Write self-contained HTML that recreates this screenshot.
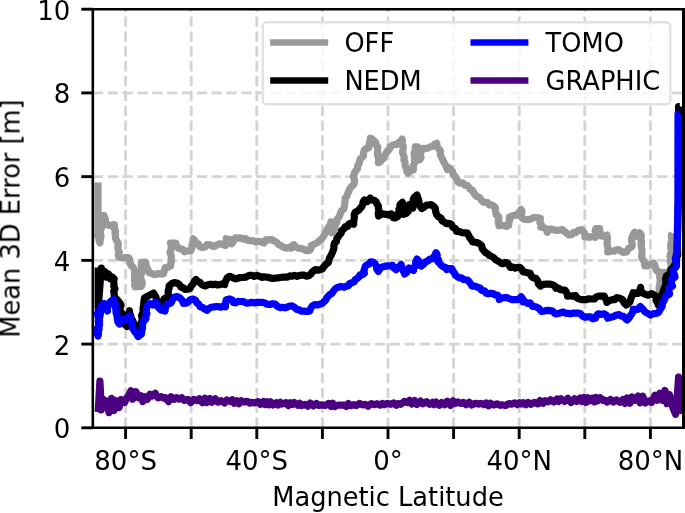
<!DOCTYPE html>
<html><head><meta charset="utf-8"><title>Mean 3D Error vs Magnetic Latitude</title>
<style>
html,body{margin:0;padding:0;background:#fff;}
body{width:685px;height:513px;overflow:hidden;}
svg{display:block;}
text{font-family:"DejaVu Sans","Liberation Sans",sans-serif;font-size:26px;fill:#000;}
</style></head><body>
<svg width="685" height="513" viewBox="0 0 685 513">
<rect x="0" y="0" width="685" height="513" fill="#fff"/>
<filter id="soft" x="-2%" y="-2%" width="104%" height="104%"><feGaussianBlur stdDeviation="0.5"/></filter>
<g filter="url(#soft)">

<g stroke="#d4d4d4" stroke-width="2.8" stroke-dasharray="10.3,4.55" fill="none">
<line x1="125.60" y1="427.8" x2="125.60" y2="9.2"/>
<line x1="191.20" y1="427.8" x2="191.20" y2="9.2"/>
<line x1="256.80" y1="427.8" x2="256.80" y2="9.2"/>
<line x1="322.40" y1="427.8" x2="322.40" y2="9.2"/>
<line x1="388.00" y1="427.8" x2="388.00" y2="9.2"/>
<line x1="453.60" y1="427.8" x2="453.60" y2="9.2"/>
<line x1="519.20" y1="427.8" x2="519.20" y2="9.2"/>
<line x1="584.80" y1="427.8" x2="584.80" y2="9.2"/>
<line x1="650.40" y1="427.8" x2="650.40" y2="9.2"/>
<line x1="92.8" y1="344.08" x2="683.2" y2="344.08"/>
<line x1="92.8" y1="260.36" x2="683.2" y2="260.36"/>
<line x1="92.8" y1="176.64" x2="683.2" y2="176.64"/>
<line x1="92.8" y1="92.92" x2="683.2" y2="92.92"/>
</g>
<clipPath id="cp"><rect x="92.8" y="9.2" width="590.4000000000001" height="418.6"/></clipPath>
<g clip-path="url(#cp)" fill="none" stroke-width="7.2" stroke-linejoin="round" stroke-linecap="butt">
<polyline stroke="#999999" points="98.0,182.4 98.0,232.0 97.6,236.0 98.8,238.2 99.1,240.7 100.0,243.0 100.0,240.5 100.7,238.0 101.0,235.5 100.2,232.9 100.4,230.4 101.5,228.0 102.6,225.6 102.1,222.9 102.5,220.4 104.4,218.2 104.0,215.5 104.8,217.7 105.5,220.0 105.7,222.4 107.0,224.5 110.0,225.5 114.3,224.6 114.6,226.9 114.5,229.2 115.6,231.4 115.0,233.7 115.5,236.0 115.6,238.8 117.0,241.3 118.2,243.0 118.2,245.3 117.9,247.7 118.1,250.0 119.3,252.3 118.2,254.7 118.7,257.0 120.8,257.7 123.0,258.0 125.7,257.4 128.4,257.5 130.0,260.0 130.0,263.0 131.0,265.4 133.0,267.0 134.0,269.0 135.0,271.0 134.6,273.3 134.4,275.6 134.7,277.9 134.4,280.2 135.3,282.4 134.6,284.7 135.2,287.0 138.3,286.6 141.4,286.3 142.2,283.9 142.1,281.5 140.7,279.1 140.8,276.7 141.0,274.3 142.4,272.0 141.4,269.6 141.8,267.2 141.2,264.8 141.6,262.4 145.5,262.2 146.2,265.1 147.0,268.0 148.4,270.4 149.4,273.0 152.1,273.5 154.7,274.6 158.2,273.6 160.8,273.9 163.4,273.8 164.4,270.7 165.2,267.6 167.7,267.4 169.6,265.9 170.5,266.0 170.8,263.7 171.3,261.4 171.1,259.1 171.4,256.8 170.8,254.5 169.9,252.2 171.1,249.9 171.3,247.6 171.2,245.3 170.5,243.0 173.1,243.1 175.7,243.0 176.7,245.8 178.4,248.3 182.7,249.2 184.5,251.8 187.5,250.9 190.6,251.0 191.9,248.1 192.0,245.0 192.8,241.9 193.3,238.7 194.9,240.6 195.9,243.0 198.4,243.9 199.6,246.5 202.0,247.5 204.9,246.9 207.0,244.7 210.3,244.9 213.2,246.5 215.4,246.1 217.2,244.6 219.3,243.9 222.5,244.1 225.4,245.6 225.3,243.2 226.5,241.0 226.3,238.6 228.4,239.7 230.7,239.5 232.0,241.5 231.6,243.9 233.2,242.0 233.9,239.3 236.0,237.7 238.4,238.3 240.8,237.8 243.1,239.1 245.6,238.6 247.9,240.5 250.9,240.7 253.2,240.9 255.5,241.9 257.9,241.2 261.0,241.8 264.0,243.0 264.7,240.8 266.7,239.5 269.0,240.1 271.5,239.5 273.7,240.7 276.6,242.3 278.9,244.7 281.3,245.7 283.5,247.2 286.0,248.2 288.6,247.6 291.2,248.2 291.9,245.9 293.9,244.7 295.6,247.0 298.2,248.2 301.2,248.5 304.0,249.4 306.8,250.6 309.9,250.2 311.1,248.2 311.0,245.9 313.9,244.3 316.9,243.0 318.6,241.4 320.5,239.9 322.2,238.3 323.7,236.1 325.0,233.7 326.2,231.3 327.4,228.9 328.8,226.6 330.4,224.5 330.9,221.8 331.1,224.0 331.5,226.3 331.2,228.6 332.3,230.7 332.1,233.0 332.7,230.6 334.8,228.9 335.0,226.4 335.9,224.2 336.8,221.9 336.9,219.5 338.4,217.7 339.6,215.8 340.3,213.7 341.4,210.8 343.8,209.0 344.4,206.3 344.8,203.6 345.0,200.8 345.2,198.2 347.0,196.2 347.6,193.7 348.9,191.5 349.5,189.0 351.5,186.6 353.9,184.6 354.4,182.2 354.6,179.7 353.5,177.2 353.8,174.8 354.7,172.4 356.1,170.3 357.6,168.4 357.6,165.6 359.1,163.6 359.5,161.4 360.0,159.2 361.9,157.6 363.5,155.7 363.6,152.6 364.4,149.6 366.5,148.5 368.8,147.8 368.9,145.3 369.4,143.0 370.2,140.6 370.5,138.2 372.5,139.4 374.2,140.9 375.8,142.5 375.9,145.0 377.8,147.0 377.5,149.6 377.6,152.2 377.4,154.9 378.4,157.4 378.7,160.0 378.4,162.7 380.5,161.7 381.6,159.4 383.7,158.3 384.4,155.7 385.9,153.6 387.2,151.3 389.2,149.5 390.2,146.8 392.5,145.2 395.0,144.4 397.7,144.3 398.9,142.3 401.1,141.2 402.1,139.0 402.4,141.3 401.9,143.7 403.3,145.9 403.2,148.3 402.8,150.7 402.6,153.1 403.6,155.3 404.2,157.6 403.9,160.0 405.1,162.2 405.0,164.7 405.6,167.0 407.0,168.9 406.8,171.3 408.2,173.2 410.1,171.4 410.9,168.9 413.5,169.7 413.1,167.4 413.5,165.1 414.6,162.9 414.5,160.6 414.9,158.3 414.3,156.0 414.1,153.7 414.6,151.4 415.6,149.2 415.3,146.9 417.9,146.9 418.6,149.0 418.7,151.2 418.9,153.4 419.2,155.6 419.5,157.8 419.6,160.0 421.0,157.6 420.4,154.6 420.8,152.0 422.3,149.6 423.5,148.4 426.0,148.6 428.3,147.9 430.5,146.7 433.0,146.3 434.6,144.3 436.7,143.2 436.8,145.6 437.7,147.6 439.3,149.3 440.5,151.2 440.3,153.6 440.8,155.8 441.8,157.8 442.8,159.8 443.9,162.2 445.3,164.5 446.4,167.0 447.2,169.5 448.9,167.7 450.9,169.6 452.6,171.7 453.4,174.4 455.1,176.5 456.7,179.0 457.7,181.8 459.9,183.2 462.8,182.8 464.7,185.1 467.4,185.3 468.9,187.3 470.3,189.3 472.6,190.5 474.4,194.0 476.6,196.3 479.6,197.5 481.4,200.2 483.1,201.9 485.3,202.4 487.8,202.6 489.2,204.8 491.7,204.9 493.6,206.1 495.4,207.5 495.4,210.0 495.9,212.5 496.2,215.0 498.7,216.6 498.9,218.9 498.1,221.2 498.7,223.5 499.0,225.8 501.4,225.5 503.8,225.3 506.3,226.3 508.7,225.6 508.9,222.7 509.6,219.9 509.3,217.0 511.7,216.1 514.0,215.3 516.6,215.2 518.1,213.3 520.0,211.7 521.0,209.4 522.0,211.6 521.3,214.2 521.5,216.6 522.7,218.8 525.3,219.5 527.9,219.6 530.6,219.2 533.5,217.5 536.8,217.5 540.3,218.3 540.2,220.5 539.9,222.7 541.5,224.9 540.8,227.1 543.7,227.6 546.4,228.9 547.3,232.4 548.8,230.4 550.8,228.9 553.8,229.8 556.9,230.6 559.5,230.0 562.2,229.7 564.0,231.0 565.7,232.4 569.2,235.0 571.7,234.6 573.6,232.4 576.2,232.4 578.5,230.3 581.5,229.7 584.1,232.4 585.2,234.6 585.0,237.0 587.2,236.5 589.4,237.3 592.3,236.5 595.2,237.3 596.3,235.2 596.2,233.0 595.1,230.6 596.0,228.5 599.6,228.5 599.9,230.9 600.5,233.3 600.4,235.8 604.0,236.5 606.9,235.1 607.3,237.5 607.4,239.9 607.0,242.3 607.2,244.7 607.7,247.1 608.1,249.5 607.7,251.9 610.9,251.2 614.2,251.2 616.2,249.8 618.6,249.7 620.7,251.1 623.0,252.3 626.7,251.9 628.9,248.2 631.8,246.8 632.3,244.6 631.9,242.4 631.5,240.2 631.8,238.0 632.5,235.8 634.7,232.2 636.3,234.2 637.6,236.5 639.8,232.9 641.3,235.1 641.2,237.4 640.9,239.8 641.7,242.1 641.0,244.5 641.4,246.8 641.8,249.1 642.0,251.5 641.9,253.8 641.6,256.2 642.0,258.5 644.2,261.4 644.7,263.6 644.9,265.8 647.2,265.8 649.3,265.1 651.4,263.9 653.5,262.9 654.8,264.9 655.2,267.3 656.5,270.5 660.0,272.5 659.9,274.9 659.6,277.3 660.7,279.7 660.0,282.1 660.0,284.4 659.2,286.8 659.1,289.2 660.0,291.6 659.8,294.0 660.7,291.7 660.7,289.3 659.9,286.8 660.5,284.4 660.1,282.0 661.5,279.7 661.4,277.3 662.0,274.9 661.5,272.5 664.8,272.8 668.0,272.0 670.6,270.0 671.0,267.8 671.2,265.6 670.9,263.3 670.2,261.1 671.1,258.9 670.1,256.6 670.4,254.4 671.6,252.2 671.2,250.0 670.6,247.5 670.8,245.1 671.0,242.7 672.6,240.3 671.5,237.8 671.4,235.4 672.4,233.0"/>
<polyline stroke="#000000" points="98.2,267.6 98.2,308.0 101.3,268.0 100.9,270.7 102.4,273.3 102.0,276.0 104.0,274.1 105.0,271.5 105.2,274.3 106.0,277.0 108.5,274.0 108.7,276.4 110.0,278.5 112.0,277.0 114.2,279.0 113.4,281.4 114.1,283.9 113.7,286.3 115.0,288.7 113.7,291.1 114.2,293.6 114.2,296.0 115.6,298.2 117.5,300.0 120.0,303.0 121.0,305.2 120.1,307.5 120.0,309.8 121.0,312.0 122.5,314.3 122.8,316.9 123.1,319.5 124.0,322.0 125.0,324.6 127.0,326.5 126.8,323.9 127.0,321.4 127.5,318.9 128.4,316.5 128.5,314.0 129.5,310.6 129.6,313.2 130.7,315.5 131.0,318.0 132.2,319.9 133.2,321.9 134.0,324.0 135.2,325.9 136.1,327.9 137.0,330.0 139.5,333.0 139.2,330.4 140.3,328.0 141.6,325.6 141.0,323.0 142.0,320.6 142.0,318.0 141.6,315.4 142.8,313.0 143.2,310.5 143.0,308.0 143.7,305.5 143.8,303.0 144.1,300.5 144.5,298.0 148.0,296.0 151.0,294.5 153.5,293.0 154.5,295.1 156.0,297.0 156.3,299.9 158.6,302.1 159.0,305.0 162.0,306.0 162.0,303.5 163.8,301.5 164.0,299.0 167.5,297.0 168.5,294.9 168.1,292.6 168.3,290.4 169.1,288.3 169.0,286.0 172.0,283.5 174.4,282.7 177.0,283.0 179.3,284.7 181.0,287.0 183.3,287.8 185.0,289.5 187.5,289.2 190.0,288.5 191.2,286.1 193.0,284.0 194.1,281.5 196.0,279.5 197.8,281.3 200.0,282.5 202.2,284.9 205.3,286.0 207.8,284.8 210.5,284.2 212.8,284.6 215.2,284.2 217.5,285.0 219.9,284.6 222.3,284.1 224.6,284.6 225.0,282.0 226.3,279.8 227.4,277.4 229.8,276.3 232.5,277.6 235.1,278.9 237.7,278.3 240.3,277.5 242.9,277.4 245.6,277.2 249.1,275.4 251.8,275.3 254.3,276.3 257.0,275.4 259.6,276.3 261.8,277.4 264.1,276.8 266.4,277.2 268.6,277.3 270.8,278.2 273.1,278.4 275.4,278.1 277.8,277.9 280.1,277.5 282.5,277.2 285.0,277.2 287.5,277.1 289.8,275.9 292.3,276.2 294.7,275.4 297.0,276.3 299.4,275.5 301.8,275.1 304.1,275.2 306.4,276.1 308.8,275.8 310.8,274.1 312.3,271.9 315.3,269.6 317.7,270.2 320.0,269.7 322.3,268.8 324.0,266.4 326.0,264.3 328.4,262.6 328.9,260.1 329.6,257.7 331.0,255.6 332.1,253.1 333.1,250.6 333.9,248.1 333.9,245.3 334.5,243.1 336.5,241.5 336.7,239.0 338.0,237.1 339.3,235.0 341.2,233.2 341.7,230.5 343.8,228.9 345.1,226.9 347.7,226.4 348.8,224.2 350.8,223.0 353.7,224.2 353.6,221.8 354.1,219.4 354.4,216.9 354.2,214.5 355.2,212.3 357.3,211.2 359.1,209.8 360.5,208.0 362.0,206.3 362.8,204.2 363.1,201.9 364.4,199.9 367.3,201.6 368.9,199.9 370.2,198.1 371.7,200.0 374.2,200.3 376.1,201.6 376.8,203.8 378.3,205.7 378.4,208.1 378.9,210.7 378.2,213.4 378.6,216.0 380.2,214.3 382.5,213.9 386.6,214.5 389.0,214.9 391.3,213.9 393.0,217.6 395.5,217.8 397.7,216.6 397.4,214.1 399.4,211.9 398.9,209.4 400.0,207.1 400.0,204.6 402.4,202.4 402.2,204.8 403.2,207.1 402.7,209.6 403.0,211.9 403.5,214.3 406.1,213.4 408.2,211.6 408.2,209.2 409.5,207.0 409.4,204.6 410.6,206.9 412.9,208.0 413.5,205.4 413.6,202.8 413.1,200.0 414.1,197.5 417.0,195.0 417.8,197.8 418.8,200.5 419.3,203.4 420.1,206.1 421.7,208.5 424.2,207.1 426.4,205.1 428.7,205.0 431.0,204.6 433.5,206.1 435.3,208.5 435.7,211.7 436.7,214.8 438.5,216.7 440.9,217.9 442.0,220.6 444.2,222.0 446.3,223.6 449.1,223.4 451.6,224.5 452.7,227.3 455.6,228.8 456.8,231.5 459.5,231.6 462.0,232.7 464.7,232.9 467.4,233.2 468.6,235.5 469.8,237.7 471.4,239.8 472.6,242.0 475.0,242.3 477.4,242.6 479.6,243.8 481.7,245.7 482.2,248.7 484.0,250.8 485.6,252.6 487.8,253.8 489.4,255.5 491.8,256.5 493.8,257.8 495.4,259.6 498.2,261.1 500.7,263.0 503.0,263.7 505.4,262.3 507.7,263.2 509.1,265.4 510.5,267.6 512.9,267.1 515.2,268.1 517.6,267.3 520.0,267.6 521.9,269.6 523.3,272.0 525.7,272.3 528.0,272.9 530.3,273.3 531.0,275.6 532.6,277.5 536.1,278.5 537.8,280.9 538.4,283.8 540.4,286.0 543.2,284.4 546.4,284.2 549.5,284.1 552.5,284.8 554.8,286.0 556.0,288.3 558.3,288.0 560.3,289.6 562.5,290.0 564.8,290.0 566.2,291.8 567.1,293.9 567.5,296.2 570.1,295.8 572.8,296.1 575.4,295.4 576.7,297.6 578.9,298.9 581.2,299.6 583.5,299.6 585.9,299.7 588.7,298.8 591.7,299.0 594.6,298.9 596.1,297.1 598.2,296.2 601.2,296.2 604.3,296.2 605.1,298.3 606.5,300.1 606.9,302.4 609.3,300.6 612.2,299.7 614.7,299.6 616.7,297.7 619.2,298.0 622.7,299.7 624.0,302.7 626.2,305.0 628.2,303.7 629.8,302.0 630.6,299.7 631.3,297.3 632.4,295.1 633.2,292.7 635.8,293.1 638.5,293.3 639.8,290.4 640.6,287.3 640.8,290.4 642.7,293.0 645.4,294.4 648.3,295.2 651.8,293.6 655.3,295.6 656.4,297.8 656.1,300.5 657.5,302.6 658.2,305.0 659.2,302.8 660.2,300.6 659.8,297.9 661.9,296.0 662.3,293.6 663.4,291.4 664.0,288.9 665.0,286.6 665.8,284.2 665.9,281.5 665.6,278.7 666.4,276.0 669.3,274.0 670.5,272.0 670.9,269.6 672.8,268.0 674.0,266.0 675.4,264.1 676.3,262.0 676.4,259.6 676.8,257.2 677.7,254.9 677.7,252.5 677.2,250.0 678.4,200.0 678.6,106.5 679.8,106.5"/>
<polyline stroke="#0000ff" points="98.0,309.0 98.7,311.2 97.5,313.5 97.8,315.8 98.8,318.0 98.3,320.2 98.5,322.5 98.8,324.8 97.9,327.0 97.2,329.2 98.3,331.5 97.3,333.8 98.0,336.0 98.5,333.8 97.7,331.5 99.1,329.3 98.8,327.0 99.6,324.8 99.4,322.5 99.6,320.3 99.1,318.0 100.1,315.8 100.4,313.6 100.5,311.3 100.0,309.0 100.9,306.9 102.0,305.0 104.0,303.6 104.7,306.3 106.4,308.5 107.5,311.0 107.4,308.6 108.0,306.3 108.6,304.0 110.0,302.0 113.5,299.5 114.6,302.0 115.3,304.6 115.4,307.4 116.0,310.0 116.0,312.5 116.7,314.8 117.3,317.2 117.3,319.6 118.0,322.0 119.5,324.0 120.4,321.3 122.0,319.0 126.0,320.0 127.7,318.0 129.5,316.0 129.7,318.4 130.9,320.5 131.9,322.6 132.0,325.0 132.3,327.6 133.6,329.8 135.0,332.0 136.7,334.1 138.0,336.5 141.5,334.0 141.6,331.8 142.2,329.6 142.6,327.4 142.2,325.1 143.0,323.0 143.8,320.5 146.0,319.0 145.7,316.4 146.9,313.8 146.0,311.2 146.7,308.6 147.0,306.0 150.0,303.5 153.0,305.0 155.5,302.0 157.2,304.3 158.0,307.0 161.0,310.0 165.0,311.0 165.3,308.5 166.1,306.1 167.5,304.0 171.0,303.0 172.3,300.2 174.0,297.5 177.0,296.5 180.0,298.0 182.3,300.4 183.5,303.5 187.0,303.0 190.0,300.0 193.0,299.0 195.6,300.4 197.0,303.0 199.1,304.5 200.0,306.8 202.6,307.4 204.7,309.1 207.0,310.3 209.0,308.4 211.3,307.2 214.0,306.8 216.3,306.7 218.6,306.6 220.8,307.2 223.1,306.0 225.4,306.8 225.5,304.4 225.8,302.0 226.3,299.7 229.8,298.9 232.2,300.0 233.3,302.4 235.8,302.9 238.0,301.3 240.4,301.5 243.6,301.6 246.5,303.2 249.1,303.0 251.7,302.3 254.4,302.9 257.0,302.3 259.6,302.4 262.1,302.3 264.5,302.7 266.7,304.1 269.6,304.5 272.5,303.7 275.4,304.1 277.3,306.3 279.8,307.6 282.4,307.3 285.1,307.8 287.7,306.8 289.8,306.0 292.1,305.9 294.6,307.3 296.5,309.4 298.9,309.6 301.0,311.1 303.5,311.1 306.6,311.3 309.6,311.1 310.7,308.4 312.3,305.9 314.7,304.6 317.5,305.0 320.0,304.1 322.4,303.4 324.0,301.5 325.8,300.0 326.7,297.7 328.3,296.1 329.9,294.5 332.0,293.3 333.6,290.9 335.4,288.6 338.0,287.2 341.1,286.4 344.2,287.2 346.3,286.3 348.5,285.6 349.8,283.4 352.0,282.8 354.2,281.8 355.2,279.6 357.2,278.4 358.9,277.0 360.0,274.9 362.5,274.8 364.4,273.2 363.9,270.7 364.7,268.4 365.3,266.1 367.2,264.8 369.3,263.9 370.5,261.8 373.0,262.0 374.9,263.5 376.4,266.0 376.7,269.0 378.4,271.4 379.7,268.8 382.0,267.0 384.6,266.4 387.2,265.9 389.9,266.0 392.5,265.3 393.7,267.9 396.0,269.6 397.3,267.5 399.8,266.4 401.2,264.4 401.7,266.9 402.4,269.4 403.7,271.6 404.7,274.0 406.8,272.4 407.4,269.8 409.1,267.9 411.4,269.1 413.5,270.5 413.7,268.1 415.4,266.1 415.6,263.6 415.9,261.3 417.0,259.1 419.0,261.1 419.6,264.0 421.4,266.1 423.7,264.1 425.8,261.8 428.1,260.7 430.0,259.0 433.2,258.7 434.0,256.6 435.1,254.7 436.1,252.7 437.2,254.8 436.6,257.3 438.3,259.3 437.9,261.7 439.7,263.2 441.1,265.2 443.0,266.7 445.4,267.5 446.7,269.6 449.2,268.7 451.9,268.7 452.7,271.0 454.3,272.8 455.3,275.0 457.2,276.6 459.1,277.9 461.4,277.9 463.3,279.4 465.5,279.8 467.7,280.1 469.4,282.0 470.8,284.0 472.1,286.2 474.9,286.0 477.4,287.2 480.0,288.0 481.5,290.4 484.5,290.9 486.1,293.2 488.4,293.7 490.8,293.2 493.1,293.5 495.2,294.9 497.5,295.0 498.8,297.0 499.3,299.4 501.8,298.0 504.4,297.6 507.2,297.6 509.8,298.9 512.5,299.7 515.6,299.7 518.6,299.4 521.2,296.8 522.9,299.1 523.0,302.0 525.4,301.8 527.6,303.4 530.0,302.9 532.6,306.4 535.8,306.8 538.8,308.2 541.4,311.4 544.4,311.0 547.3,310.3 549.9,310.6 552.5,311.1 555.2,313.8 557.9,313.7 560.5,312.8 563.1,312.0 565.3,313.1 567.8,313.3 570.1,313.8 572.7,313.2 575.4,313.2 578.0,313.0 580.6,313.8 582.4,316.0 585.0,317.3 587.7,316.8 590.3,316.9 592.8,318.8 595.5,318.2 596.4,315.7 598.2,313.8 601.2,314.5 604.3,313.8 606.6,315.5 607.8,318.2 610.8,317.2 613.9,316.4 616.4,315.0 619.2,314.6 621.2,316.0 623.6,316.4 625.2,318.3 627.1,319.9 629.0,317.9 630.6,315.5 631.9,313.7 632.9,311.7 633.2,309.4 637.6,309.4 640.3,306.6 642.7,308.9 644.6,311.5 646.5,312.8 648.6,313.7 650.5,315.0 653.3,313.6 656.5,313.5 658.7,312.2 660.0,310.0 661.0,308.0 662.3,306.1 662.1,303.6 663.5,301.8 664.8,298.9 666.0,296.0 669.5,294.0 668.9,291.0 668.5,288.0 670.7,287.4 672.5,286.0 671.4,283.8 671.6,281.4 671.5,279.0 675.0,277.0 674.5,274.7 673.2,272.5 673.5,270.0 675.1,268.1 676.5,266.0 676.6,263.3 675.6,260.7 675.4,258.0 676.2,255.4 676.7,252.7 677.0,250.0 678.0,200.0 678.0,114.0 679.2,114.0"/>
<polyline stroke="#4b0082" points="98.2,412.0 99.9,381.0 100.6,394.0 101.2,410.0 103.0,399.1 104.9,407.2 106.6,401.0 109.0,412.6 111.6,398.4 114.1,410.4 115.8,400.5 119.1,407.4 121.1,399.5 124.6,402.4 127.0,397.5 128.7,395.4 130.9,390.8 132.7,399.2 136.0,391.8 138.7,397.8 141.1,395.8 142.8,401.6 144.8,396.6 147.3,399.4 150.0,394.2 152.2,396.1 155.2,393.3 158.0,397.8 161.3,396.6 163.5,398.2 165.4,397.6 168.5,401.6 171.0,396.7 174.0,399.3 176.7,397.7 179.0,399.1 181.7,397.7 184.3,400.4 187.7,399.4 190.7,402.7 193.7,399.3 197.3,400.7 199.4,398.7 202.4,402.6 204.9,398.2 206.7,402.6 209.9,398.5 212.0,402.2 215.3,398.8 217.8,402.1 221.2,400.7 224.5,402.9 226.9,399.9 230.3,401.5 232.2,399.9 234.3,403.3 236.8,400.9 239.0,403.7 241.4,400.7 244.1,402.1 247.1,401.3 249.9,403.1 251.6,402.4 254.8,402.9 258.0,401.7 260.4,404.4 263.3,401.5 265.0,404.5 266.9,401.9 268.6,404.8 270.5,401.7 272.9,405.0 276.2,402.7 278.1,405.0 280.4,402.4 282.3,404.0 285.8,402.7 288.4,405.6 290.2,402.7 292.3,404.4 294.3,402.4 297.8,405.3 299.7,403.4 301.3,405.5 304.9,404.3 307.9,406.2 310.2,403.0 313.3,405.9 316.5,403.5 318.5,405.4 322.1,404.9 325.3,405.5 328.4,403.5 331.0,406.5 332.7,403.3 334.9,406.6 337.8,405.1 340.3,405.1 343.9,405.1 346.2,406.5 348.3,403.5 350.3,405.7 353.7,404.7 356.3,405.6 359.5,403.3 362.4,404.9 365.5,404.4 368.1,406.2 371.3,403.6 374.5,404.7 376.9,403.7 380.4,405.2 382.3,403.4 384.2,404.8 387.4,403.4 390.7,404.3 393.6,402.9 396.3,405.3 397.9,403.6 400.8,404.3 404.3,401.4 407.6,402.7 409.6,400.2 411.8,404.1 414.6,400.5 417.0,404.4 420.5,401.1 423.0,403.8 426.4,401.7 429.8,404.3 432.5,402.4 434.1,404.6 436.1,402.0 439.3,405.2 441.8,402.6 444.6,404.7 447.2,401.2 450.4,405.3 453.1,400.8 455.2,403.6 457.8,401.9 461.0,403.4 463.5,402.4 466.1,404.7 469.1,402.3 471.7,405.0 475.2,403.3 478.6,404.1 480.7,403.3 484.2,404.5 486.0,403.0 488.5,405.8 490.6,403.3 493.5,405.0 496.9,403.8 500.0,405.4 501.8,404.8 505.4,405.6 508.9,403.6 511.5,404.2 514.7,402.9 517.2,404.7 519.5,402.6 521.7,404.0 523.3,402.7 525.8,404.7 528.1,402.4 530.7,404.3 534.3,402.3 537.8,403.9 540.0,400.6 543.1,403.3 545.0,400.6 548.4,401.8 550.5,399.7 554.0,402.0 557.0,399.1 558.7,401.4 561.1,398.8 564.6,401.4 567.8,398.4 571.1,402.5 574.4,398.8 576.7,401.5 580.2,398.1 582.0,401.5 584.1,397.6 586.0,402.5 588.0,397.8 590.2,400.6 592.4,398.2 594.4,401.9 596.0,397.5 597.6,400.8 600.3,397.9 602.9,400.4 604.7,400.1 607.2,402.1 610.4,399.4 613.1,402.0 616.6,400.0 619.9,402.2 622.8,399.6 625.1,403.5 626.9,398.0 630.0,403.1 631.9,396.9 635.2,400.2 638.1,396.1 640.2,402.8 642.7,396.2 645.2,403.0 648.8,400.9 651.5,402.5 655.0,395.3 657.3,400.3 659.7,393.3 662.3,400.3 664.9,390.4 667.0,403.7 669.4,394.4 673.0,408.0 675.6,414.3 677.0,400.0 678.6,377.0 679.6,395.0 679.9,414.0"/>
</g>
<g stroke="#000" stroke-width="2.9" fill="none">
<line x1="125.60" y1="427.8" x2="125.60" y2="439.0"/>
<line x1="191.20" y1="427.8" x2="191.20" y2="439.0"/>
<line x1="256.80" y1="427.8" x2="256.80" y2="439.0"/>
<line x1="322.40" y1="427.8" x2="322.40" y2="439.0"/>
<line x1="388.00" y1="427.8" x2="388.00" y2="439.0"/>
<line x1="453.60" y1="427.8" x2="453.60" y2="439.0"/>
<line x1="519.20" y1="427.8" x2="519.20" y2="439.0"/>
<line x1="584.80" y1="427.8" x2="584.80" y2="439.0"/>
<line x1="650.40" y1="427.8" x2="650.40" y2="439.0"/>
<line x1="92.8" y1="427.80" x2="81.3" y2="427.80"/>
<line x1="92.8" y1="344.08" x2="81.3" y2="344.08"/>
<line x1="92.8" y1="260.36" x2="81.3" y2="260.36"/>
<line x1="92.8" y1="176.64" x2="81.3" y2="176.64"/>
<line x1="92.8" y1="92.92" x2="81.3" y2="92.92"/>
<line x1="92.8" y1="9.20" x2="81.3" y2="9.20"/>
</g>
<path d="M683.5 9.2 H92.8 V427.8 H683.5" fill="none" stroke="#000" stroke-width="2.6" stroke-linecap="square"/>
<line x1="683.5" y1="7.8999999999999995" x2="683.5" y2="429.1" stroke="#000" stroke-width="3"/>
<text x="70.4" y="438.30" text-anchor="end">0</text>
<text x="70.4" y="354.58" text-anchor="end">2</text>
<text x="70.4" y="270.86" text-anchor="end">4</text>
<text x="70.4" y="187.14" text-anchor="end">6</text>
<text x="70.4" y="103.42" text-anchor="end">8</text>
<text x="70.4" y="19.70" text-anchor="end">10</text>
<text x="125.60" y="470.2" text-anchor="middle">80°S</text>
<text x="256.80" y="470.2" text-anchor="middle">40°S</text>
<text x="388.00" y="470.2" text-anchor="middle">0°</text>
<text x="519.20" y="470.2" text-anchor="middle">40°N</text>
<text x="650.40" y="470.2" text-anchor="middle">80°N</text>
<text x="388.00" y="506.2" text-anchor="middle" style="font-size:25.7px">Magnetic Latitude</text>
<text transform="translate(19.6,218.50) rotate(-90)" text-anchor="middle" style="font-size:25.7px">Mean 3D Error [m]</text>
<rect x="262.8" y="22.3" width="407.5" height="82" rx="4" ry="4" fill="#fff" fill-opacity="0.8" stroke="#e2e2e2" stroke-width="2.4"/>
<g fill="none" stroke-width="6.5" stroke-linecap="butt">
<line x1="270.2" y1="42.5" x2="328.2" y2="42.5" stroke="#999999"/>
<line x1="270.2" y1="80.4" x2="328.2" y2="80.4" stroke="#000"/>
<line x1="470.5" y1="42.5" x2="528.4" y2="42.5" stroke="#0000ff"/>
<line x1="470.5" y1="80.4" x2="528.4" y2="80.4" stroke="#4b0082"/>
</g>
<text x="344.4" y="52.2" style="font-size:25.7px">OFF</text>
<text x="344.4" y="90.1" style="font-size:25.7px">NEDM</text>
<text x="545.6" y="52.2" style="font-size:25.7px">TOMO</text>
<text x="545.6" y="90.1" style="font-size:25.7px">GRAPHIC</text>
</g></svg></body></html>
